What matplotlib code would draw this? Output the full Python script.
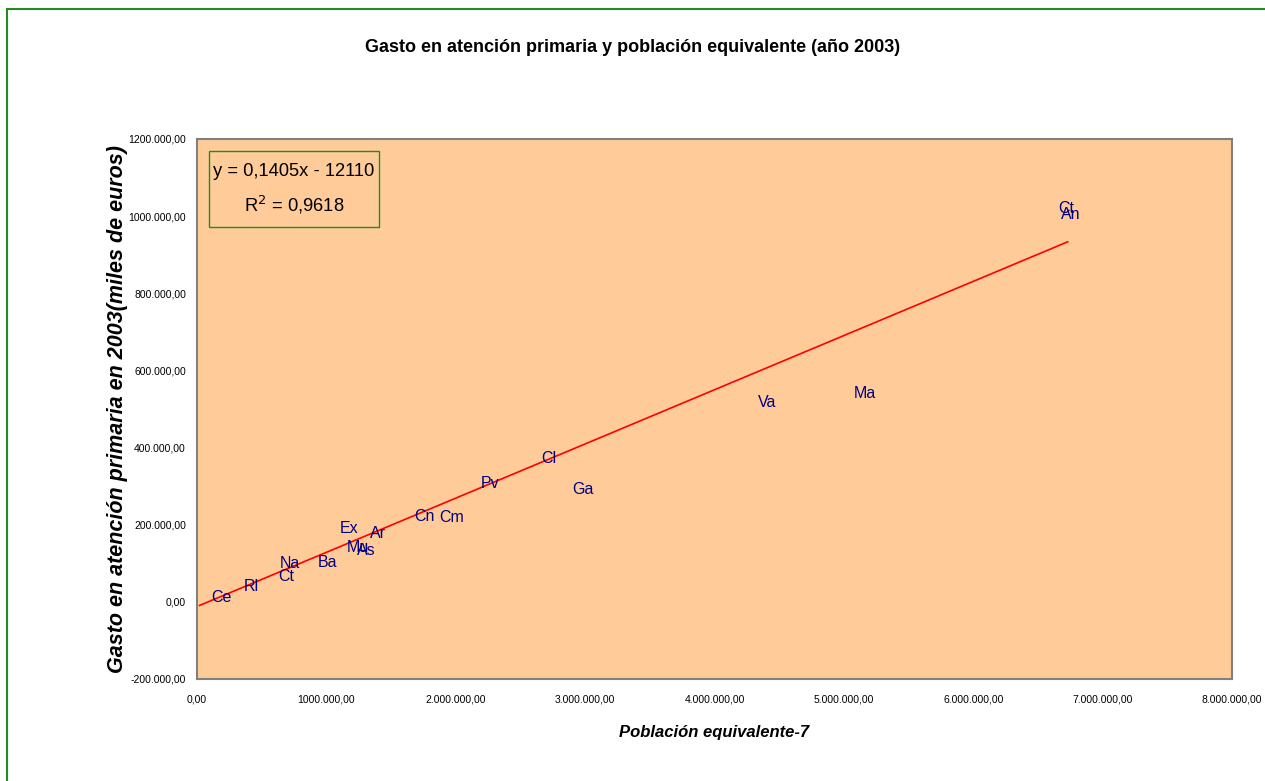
import matplotlib.pyplot as plt
from matplotlib import font_manager
from matplotlib.patches import Rectangle
from matplotlib.lines import Line2D
import numpy as np

# Comunidades autónomas: población equivalente y gasto (miles de euros)
etiquetas = ["Ce", "Rl", "Ct", "Na", "Ba", "Ex", "Mu", "As", "Ar", "Cn",
             "Cm", "Pv", "Cl", "Ga", "Va", "Ma", "Ct", "An"]
poblacion = [192000, 418000, 688000, 718000, 1005000, 1175000, 1245000, 1305000, 1395000, 1755000,
             1970000, 2265000, 2720000, 2985000, 4410000, 5160000, 6715000, 6755000]
gasto = [10000, 39000, 67000, 100000, 103000, 191000, 142000, 134000, 178000, 222000,
         219000, 307000, 372000, 292000, 516000, 539000, 1019000, 1004000]

# Línea de tendencia (Excel)
pendiente = 0.1405
ordenada = -12110
rango_tendencia = [20000, 6730000]

x_ticks = [0, 1000000, 2000000, 3000000, 4000000, 5000000, 6000000, 7000000, 8000000]
x_tick_labels = ["0,00", "1000.000,00", "2.000.000,00", "3.000.000,00", "4.000.000,00",
                 "5.000.000,00", "6.000.000,00", "7.000.000,00", "8.000.000,00"]
y_ticks = [-200000, 0, 200000, 400000, 600000, 800000, 1000000, 1200000]
y_tick_labels = ["-200.000,00", "0,00", "200.000,00", "400.000,00", "600.000,00",
                 "800.000,00", "1000.000,00", "1200.000,00"]

disponibles = {f.name for f in font_manager.fontManager.ttflist}
narrow = "Liberation Sans Narrow" if "Liberation Sans Narrow" in disponibles else "Liberation Sans"
plt.rcParams['font.family'] = [narrow, 'DejaVu Sans']

fig = plt.figure(figsize=(12.65, 7.81), dpi=100)
ax = fig.add_axes([197 / 1265, 1 - 679 / 781, (1232 - 197) / 1265, (679 - 139) / 781])
ax.set_facecolor("#FFCC99")
for lado in ax.spines.values():
    lado.set_color("#808080")
    lado.set_linewidth(1.5)

# borde verde del área del gráfico
fig.add_artist(Line2D([7 / 1265, 1], [1 - 9 / 781, 1 - 9 / 781], color="#228B22", lw=1.5,
                      transform=fig.transFigure))
fig.add_artist(Line2D([7 / 1265, 7 / 1265], [0, 1 - 9 / 781], color="#228B22", lw=1.5,
                      transform=fig.transFigure))

xs = np.array(rango_tendencia)
ax.plot(xs, pendiente * xs + ordenada, color="red", lw=1.2)

for etiqueta, x, y in zip(etiquetas, poblacion, gasto):
    ax.text(x, y, etiqueta, color="#000080", fontsize=11.5, ha="center", va="center",
            family=[narrow, 'DejaVu Sans'])

ax.set_xlim(0, 8000000)
ax.set_ylim(-200000, 1200000)
ax.set_xticks(x_ticks)
ax.set_xticklabels(x_tick_labels, fontsize=7.5)
ax.set_yticks(y_ticks)
ax.set_yticklabels(y_tick_labels, fontsize=7.5)
ax.tick_params(axis="y", length=0, pad=8)
ax.tick_params(axis="x", length=0, pad=11)

ax.set_xlabel("Población equivalente-7", fontsize=12, fontweight="bold", style="italic",
              family="Liberation Sans", labelpad=15)
fig.text(118 / 1265, 1 - 409 / 781, "Gasto en atención primaria en 2003(miles de euros)",
         rotation=90, fontsize=15.5, fontweight="bold", style="italic",
         family="Liberation Sans", ha="center", va="center")
fig.text(0.5, 1 - 47 / 781, "Gasto en atención primaria y población equivalente (año 2003)",
         fontsize=13, fontweight="bold", ha="center", va="center")

# recuadro con la ecuación
ax.add_patch(Rectangle(((209 - 197) / 1035, (679 - 227) / 540), 170 / 1035, 76 / 540,
                       transform=ax.transAxes, facecolor="none", edgecolor="#228B22", lw=1))
ax.text((294 - 197) / 1035, (679 - 172) / 540, "y = 0,1405x - 12110", transform=ax.transAxes,
        fontsize=13.2, ha="center", va="center")
ax.text((294 - 197) / 1035, (679 - 205) / 540, "R$^2$ = 0,9618", transform=ax.transAxes,
        fontsize=13.2, ha="center", va="center")

fig.savefig("out.png", dpi=100)
